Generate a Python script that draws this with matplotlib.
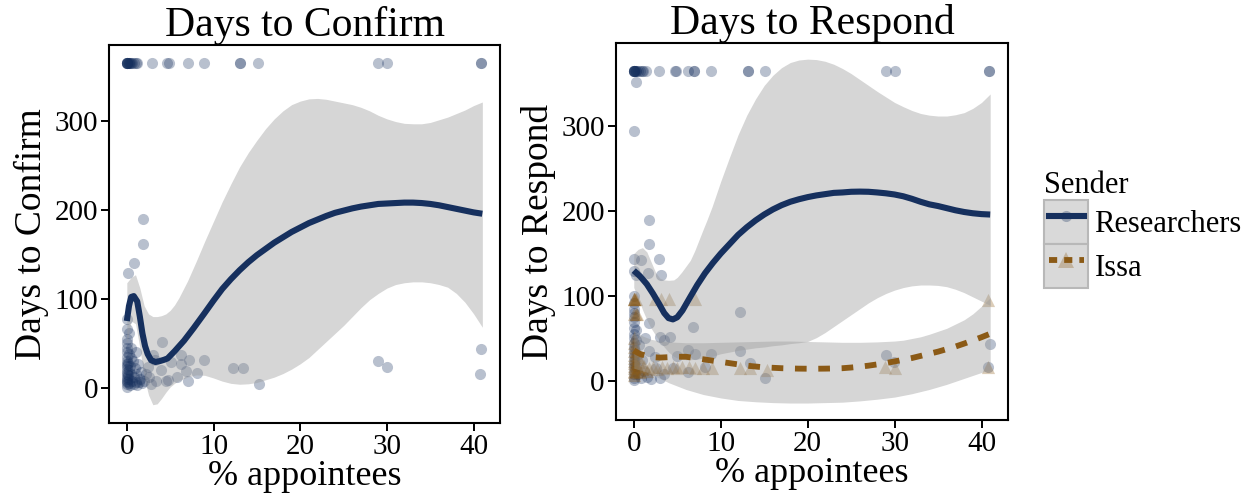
import numpy as np
import matplotlib.pyplot as plt
from matplotlib.patches import Patch
from matplotlib.lines import Line2D
from matplotlib.legend_handler import HandlerLine2D

plt.rcParams['font.family'] = ['Liberation Serif', 'DejaVu Serif']

navy = '#16305e'
brown = '#8b5a16'

# --- Days to confirm, researchers (points) ---
conf_top_x = [0, 0, 0, 0, 0, 0, 0.1, 0.2, 0.3, 0.4, 0.5, 0.6, 0.8, 1.0, 1.2,
              2.9, 4.6, 4.9, 7.0, 8.9, 13.1, 13.1, 15.1, 29.0, 30.0, 40.8, 40.8]
conf_low_x = [1.83, 1.83, 0.8, 0.18, 0, 0, 4.1, 3.0, 3.2, 6.2, 7.2, 5.1, 6.2,
              8.9, 8.1, 6.8, 7.0, 5.8, 4.5, 4.8, 3.4, 2.0, 2.4, 3.9, 2.2, 1.4,
              12.25, 13.35, 15.2, 29.0, 30.0, 40.85, 40.7,
              0, 0, 0, 0, 0, 0, 0, 0, 0, 0, 0, 0, 0, 0, 0, 0, 0, 0.1, 0.1,
              0.2, 0.2, 0.3, 0.3, 0.4, 0.4, 0.5, 0.5, 0.6, 0.7, 0.8, 0.8, 0.9,
              1.0, 1.0, 1.1, 1.2, 1.3, 1.5, 1.6, 1.8, 2.6, 2.8, 0.2, 0.5]
conf_low_y = [190, 161, 140, 129, 77, 66, 51, 37, 31, 37, 31, 29, 27,
              31, 17, 19, 8, 12, 8, 9, 8, 8, 23, 20, 16, 7,
              22, 22, 4.5, 30, 23, 44, 16,
              55, 50, 45, 40, 35, 30, 27, 24, 21, 18, 15, 12, 10, 8, 6, 4, 1, 14, 28,
              5, 20, 38, 10, 25, 3, 16, 45, 8, 30, 12, 4, 22,
              6, 40, 15, 3, 27, 10, 18, 5, 12, 4, 62, 33]

# smooth fit and band
conf_fit_x = [0, 0.25, 0.5, 0.8, 1.2, 1.5, 1.8, 2.1, 2.4, 2.8, 3.3, 3.8, 4.3, 4.7, 5.5,
              6.6, 7.7, 8.9, 10, 11, 12, 13, 14, 15, 16, 17, 18, 19, 20, 21, 22, 23,
              24, 25, 26, 27, 28, 29, 30, 31, 32, 33, 34, 35, 36, 37, 38, 39, 40, 41]
conf_fit_y = [75, 92, 102, 103, 97, 80, 61, 47, 38, 31, 29, 30, 31.5, 33, 41,
              53, 67, 83, 98, 111, 122, 132, 141, 149, 156, 163, 169, 175, 180, 185, 189, 193,
              196.5, 199, 201.5, 203.5, 205, 206.5, 207, 207.5, 208, 208, 207.5, 206.5, 205, 203,
              201, 199, 197, 195.5]
band_x = [0, 0.5, 1.0, 1.5, 2.0, 2.5, 3.0, 3.5, 4.0, 4.5, 5.0, 5.5, 6.0, 7.0, 8.0, 9.0,
          10, 11, 12, 13, 14, 15, 16, 17, 18, 19, 20, 21, 22, 23, 24, 25, 26, 27, 28,
          29, 30, 31, 32, 33, 34, 35, 36, 37, 38, 39, 40, 41]
conf_hi = [118, 124, 127, 112, 92, 83, 80, 80, 81, 83, 87, 93, 101, 120, 142, 165,
           187, 209, 229, 248, 264, 278, 291, 302, 311, 318, 322, 324.5, 325, 324, 322, 320,
           318, 315, 311, 306, 302, 299, 297, 296.5, 296.5, 298, 301, 304, 308, 312, 317, 321]
conf_lo = [50, 75, 72, 45, 12, -8, -19, -18, -12, -5, 1, 5, 8, 12, 14.5, 14,
           11, 7.5, 5, 4, 4.5, 6, 9, 12, 16, 21, 27, 34, 43, 52, 61, 70,
           80, 90, 99, 106, 112, 116, 118, 119, 119, 118, 116, 113, 106, 96, 83, 68]

# --- Days to respond, researchers ---
resp_top_x = [0, 0, 0, 0, 0, 0, 0.1, 0.2, 0.3, 0.5, 0.7, 0.9, 1.1, 1.4,
              2.9, 4.7, 4.9, 6.2, 6.9, 6.9, 8.9, 13.1, 13.1, 15.1, 29.0, 30.0, 40.9, 40.9]
resp_low_x = [0.27, 0, 1.72, 1.72, 2.87, 0, 0.8, 1.6, 3.1, 0, 0.3, 12.2, 6.8, 1.7,
              3.06, 4.2, 3.5, 12.2, 13.4, 15.1, 29.0, 29.9, 40.96, 40.8, 8.9, 7.0,
              6.2, 5.0, 8.2, 6.2, 4.5,
              0, 0, 0, 0, 0, 0, 0, 0, 0, 0, 0, 0, 0, 0, 0, 0, 0, 0, 0, 0, 0,
              0.3, 0.3, 0.5, 0.6, 0.8, 1.0, 1.2, 1.5, 1.8, 2.0, 2.5, 3.0, 3.5,
              0.4, 0.2, 1.3, 2.4]
resp_low_y = [352, 294, 190, 161, 144, 144, 142, 127, 125, 130, 125, 81, 64, 68,
              52, 52, 48, 35, 21.6, 4, 30, 22, 44, 16, 32, 32,
              37, 29, 17, 10, 15,
              100, 92, 85, 80, 75, 70, 62, 55, 50, 45, 40, 36, 32, 28, 24, 20, 16, 12, 8, 4, 1,
              60, 18, 8, 42, 3, 25, 12, 5, 35, 2, 15, 4, 8,
              30, 48, 50, 28]

resp_fit_x = [0, 0.75, 1.5, 2.2, 2.9, 3.5, 4.0, 4.5, 5.0, 5.6, 6.5, 7.3, 8.2, 9.1, 10,
              11, 12, 13, 14, 15, 16, 17, 18, 19, 20, 21, 22, 23, 24, 25, 26, 27, 28,
              29, 30, 31, 32, 33, 34, 35, 36, 37, 38, 39, 40, 41]
resp_fit_y = [130, 123, 114, 103, 91, 80, 74, 72.5, 75, 83, 99, 113, 127, 139, 150,
              161, 172, 181, 189, 196, 202, 207, 211, 214, 216.5, 218.5, 220, 221.5, 222, 222.8, 223, 222.8, 222,
              221, 219.6, 217.5, 214.5, 211, 208, 206, 203.5, 201, 199, 197.5, 196.5, 196]
resp_band_x = [0, 0.5, 1.0, 1.5, 2.0, 2.5, 3.0, 3.5, 4.0, 4.6, 5.0, 5.5, 6.0, 6.5, 7.0,
               7.5, 8.0, 8.4, 9, 10, 11, 12, 13, 14, 15, 16, 17, 18, 19, 20, 21, 22, 23,
               24, 25, 26, 27, 28, 29, 30, 31, 32, 33, 34, 35, 36, 37, 38, 39, 40, 41]
resp_hi = [150, 155, 157, 152, 140, 128, 121, 119, 118.5, 119, 122, 128, 135, 142, 153,
           166, 179, 189, 205, 235, 263, 290, 313, 332, 348, 360, 369, 375, 378, 379, 378.5, 376.5, 373,
           368, 362, 355, 348, 341, 334.5, 328, 323, 318.5, 315, 313, 312, 312, 313.5, 316, 321, 328, 338]
resp_lo = [110, 98, 84, 72, 62, 54, 46, 40, 34, 29, 27, 26, 25, 25, 25.5,
           26, 27, 28, 29, 32, 34, 36, 37.5, 39, 40, 41.5, 42.5, 44, 45, 46.5, 51, 57, 64,
           71, 78, 85, 92, 98, 103, 107, 110, 112, 113, 113, 112.5, 111, 108, 104, 99, 94, 89]

# --- Days to respond, Issa ---
issa_x = [0, 0, 0, 0.1, 0.3, 2.4, 3.1, 4.1, 7.0, 40.8,
          0, 0.2, 0.4,
          0, 0, 0, 0, 0, 0, 0, 0, 0, 0, 0, 0, 0, 0.2, 0.2, 0.3, 0.5, 0.5, 0.7,
          0.8, 1.0, 1.2, 1.5, 1.8, 2.2, 2.7, 3.2, 3.8, 4.5, 5.0, 5.5, 6.3, 7.0,
          8.0, 9.0, 12.2, 13.4, 15.3, 28.85, 30.0, 40.8]
issa_y = [97, 97, 97, 97, 97, 97, 97, 97, 97, 95,
          79, 79, 79,
          50, 45, 40, 35, 30, 27, 24, 21, 18, 15, 12, 10, 7, 35, 20, 12, 28, 16, 10,
          22, 14, 18, 12, 15, 17, 14, 16, 15, 16, 15, 17, 16, 15,
          15.7, 15.7, 15.7, 15, 12.6, 17, 15.7, 17]

issa_fit_x = [0, 0.4, 0.8, 1.5, 2.2, 3.0, 4.0, 5.0, 6.0, 7.0, 8.0, 9.0, 10, 11, 12, 13,
              14, 15, 16, 17, 18, 19, 20, 21, 22, 23, 24, 25, 26, 27, 28, 29, 30, 31,
              32, 33, 34, 35, 36, 37, 38, 39, 40, 41]
issa_fit_y = [36, 33.5, 31.5, 29.5, 28, 27.5, 28, 28.5, 28.5, 27, 25.5, 24, 22.5, 21, 19.5, 18,
              17, 16, 15.5, 15, 14.7, 14.5, 14.4, 14.4, 14.5, 14.7, 15, 15.8, 16.8, 18, 19.5, 21, 23, 25,
              27, 29.5, 32, 34.5, 37.5, 40.5, 44, 47.7, 51.5, 55.6]
issa_band_x = [0, 0.5, 1, 2, 3, 4, 6, 8, 10, 12, 14, 16, 18, 20, 22, 24, 26, 28, 30, 31,
               32, 33, 34, 35, 36, 37, 38, 39, 40, 41]
issa_hi = [60, 56, 53, 49, 47, 46, 45, 45, 45.5, 46, 46.5, 47, 47, 46.5, 46, 45.5, 45.5, 46, 47, 48,
           50, 52, 55, 58.5, 62, 67, 72, 79, 88, 98]
issa_lo = [15, 13.5, 12, 8, 3, -2, -10, -16, -20, -23, -24.5, -25.5, -26, -26, -25.5, -25, -23.5, -21.5, -19, -17,
           -15, -12.5, -10, -7, -4, -0.5, 3, 6.5, 10, 13]

xticks = [0, 10, 20, 30, 40]


def style(ax, ylim, title, ylabel):
    ax.set_xlim(-2.05, 43.05)
    ax.set_ylim(*ylim)
    ax.set_xticks(xticks)
    ax.set_yticks([0, 100, 200, 300])
    for s in ax.spines.values():
        s.set_linewidth(1.5)
        s.set_color('black')
    ax.tick_params(direction='out', length=6, width=1.4, labelsize=21, colors='black', pad=2)
    ax.set_title(title, fontsize=30, pad=4)
    ax.set_xlabel('% appointees', fontsize=26, labelpad=0)
    ax.set_ylabel(ylabel, fontsize=27, labelpad=4)


fig = plt.figure(figsize=(12.55, 4.95), dpi=100)
ax1 = fig.add_axes([0.0869, 0.1455, 0.3116, 0.7636])
ax2 = fig.add_axes([0.4908, 0.1515, 0.3124, 0.7616])

# left panel
ax1.scatter(conf_top_x, [365] * len(conf_top_x), s=64, color=navy, alpha=0.3, linewidths=0)
ax1.scatter(conf_low_x, conf_low_y, s=64, color=navy, alpha=0.3, linewidths=0)
ax1.fill_between(band_x, conf_hi, conf_lo, color='#999999', alpha=0.4, linewidth=0)
ax1.plot(conf_fit_x, conf_fit_y, color=navy, lw=4.4, solid_capstyle='butt', solid_joinstyle='round')
style(ax1, (-39.5, 385), 'Days to Confirm', 'Days to Confirm')

# right panel
ax2.scatter(resp_top_x, [365] * len(resp_top_x), s=64, color=navy, alpha=0.3, linewidths=0)
ax2.scatter(resp_low_x, resp_low_y, s=64, color=navy, alpha=0.3, linewidths=0)
ax2.scatter(issa_x, issa_y, s=90, marker='^', color=brown, alpha=0.3, linewidths=0)
ax2.fill_between(resp_band_x, resp_hi, resp_lo, color='#999999', alpha=0.4, linewidth=0)
ax2.fill_between(issa_band_x, issa_hi, issa_lo, color='#999999', alpha=0.4, linewidth=0)
ax2.plot(resp_fit_x, resp_fit_y, color=navy, lw=4.4, solid_capstyle='butt', solid_joinstyle='round')
ax2.plot(issa_fit_x, issa_fit_y, color=brown, lw=4.2, dashes=(2.0, 2.0), dash_capstyle='butt')
style(ax2, (-46, 398), 'Days to Respond', 'Days to Respond')

# legend
key = dict(facecolor='#d9d9d9', edgecolor='#b8b8b8', linewidth=1.5)
r_pt = Line2D([], [], marker='o', markersize=8, color=navy, alpha=0.3, linestyle='none', markeredgewidth=0)
r_ln = Line2D([], [], color=navy, lw=4.4)
i_pt = Line2D([], [], marker='^', markersize=11, color=brown, alpha=0.3, linestyle='none', markeredgewidth=0)
i_ln = Line2D([], [], color=brown, lw=4.2, dashes=(1.4, 1.2))
hmap = {r_pt: HandlerLine2D(numpoints=1), i_pt: HandlerLine2D(numpoints=1),
        r_ln: HandlerLine2D(numpoints=2, marker_pad=0.15), i_ln: HandlerLine2D(numpoints=2, marker_pad=0.15)}
fig.legend([(Patch(**key), r_pt, r_ln), (Patch(**key), i_pt, i_ln)], ['Researchers', 'Issa'],
           handler_map=hmap, title='Sender', loc='upper left',
           bbox_to_anchor=(1044 / 1255, 1 - 171 / 495), frameon=False,
           fontsize=22, title_fontsize=22, handlelength=1.45, handleheight=1.84,
           labelspacing=0, handletextpad=0.2, borderpad=0, borderaxespad=0,
           alignment='left')

fig.savefig('out.png', dpi=100)
